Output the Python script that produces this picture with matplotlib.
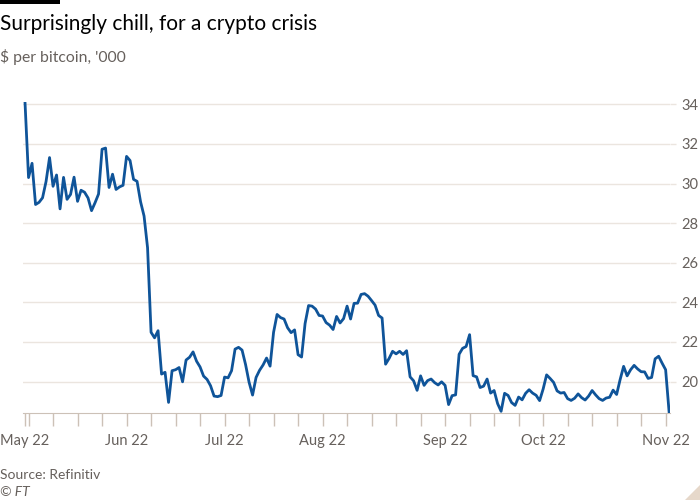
import numpy as np
import pandas as pd
import matplotlib
matplotlib.use("Agg")
import matplotlib.pyplot as plt
import matplotlib.dates as mdates
from matplotlib.patches import Rectangle, Polygon

plt.rcParams['font.family'] = ['Lato', 'DejaVu Sans']

# Daily bitcoin price, $'000, 8 May - 8 Nov 2022
start_date = "2022-05-08"
price = [
    # May 8-31
    34.06, 30.30, 31.02, 28.94, 29.05, 29.28, 30.10, 31.31, 29.86, 30.43,
    28.72, 30.31, 29.20, 29.45, 30.32, 29.10, 29.66, 29.56, 29.27, 28.63,
    29.03, 29.47, 31.73, 31.79,
    # Jun
    29.80, 30.47, 29.70, 29.83, 29.91, 31.37, 31.16, 30.21, 30.11, 29.08,
    28.36, 26.76, 22.49, 22.21, 22.57, 20.38, 20.47, 18.95, 20.55, 20.60,
    20.71, 19.99, 21.09, 21.23, 21.50, 21.03, 20.74, 20.28, 20.11, 19.79,
    # Jul
    19.27, 19.24, 19.30, 20.23, 20.19, 20.55, 21.64, 21.73, 21.59, 20.86,
    19.97, 19.32, 20.21, 20.57, 20.84, 21.19, 20.78, 22.49, 23.39, 23.23,
    23.16, 22.72, 22.47, 22.61, 21.36, 21.24, 22.93, 23.84, 23.81, 23.66,
    23.34,
    # Aug
    23.31, 22.98, 22.85, 22.63, 23.29, 22.96, 23.18, 23.81, 23.16, 23.95,
    23.96, 24.40, 24.44, 24.31, 24.09, 23.86, 23.34, 23.21, 20.88, 21.17,
    21.53, 21.40, 21.53, 21.37, 21.56, 20.24, 20.04, 19.56, 20.29, 19.81,
    20.05,
    # Sep
    20.13, 19.95, 19.83, 19.99, 19.81, 18.84, 19.29, 19.33, 21.38, 21.68,
    21.77, 22.37, 20.30, 20.24, 19.70, 19.77, 20.13, 19.42, 19.55, 18.89,
    18.50, 19.41, 19.30, 18.94, 18.80, 19.22, 19.08, 19.41, 19.59, 19.42,
    # Oct
    19.31, 19.04, 19.62, 20.34, 20.16, 19.96, 19.53, 19.42, 19.45, 19.14,
    19.05, 19.16, 19.38, 19.19, 19.07, 19.27, 19.55, 19.33, 19.14, 19.05,
    19.17, 19.21, 19.57, 19.35, 20.10, 20.77, 20.29, 20.60, 20.82, 20.64,
    20.50,
    # Nov 1-8
    20.49, 20.16, 20.21, 21.15, 21.28, 20.93, 20.60, 18.45,
]
dates = pd.date_range(start_date, periods=len(price), freq="D")

month_labels = ["May 22", "Jun 22", "Jul 22", "Aug 22", "Sep 22", "Oct 22", "Nov 22"]
label_dates = pd.to_datetime(["2022-05-08", "2022-06-06", "2022-07-04", "2022-08-01",
                              "2022-09-05", "2022-10-03", "2022-11-07"])
yticks = [20, 22, 24, 26, 28, 30, 32, 34]

line_col = "#0f5499"
grid_col = "#ebe5df"
axis_col = "#ccc1b7"
muted = "#66605c"

fig = plt.figure(figsize=(7, 5), dpi=100)
fig.patch.set_facecolor("white")
ax = fig.add_axes([23 / 700, 1 - 413.3 / 500, 647 / 700, 311 / 500])

ax.plot(dates, price, color=line_col, lw=2.0, solid_joinstyle="round", zorder=3)

ax.set_xlim(dates[0] - pd.Timedelta(hours=14), dates[-1] + pd.Timedelta(hours=6))
ax.set_ylim(18.4, 34.1)

# y axis on the right, gridlines
ax.yaxis.tick_right()
ax.set_yticks(yticks)
ax.set_yticklabels([str(v) for v in yticks])
ax.tick_params(axis="y", length=4, width=1, color=grid_col, pad=4,
               labelsize=10.5, labelcolor=muted)
ax.grid(axis="y", color=grid_col, lw=1)

# weekly minor ticks, month labels
mondays = pd.date_range("2022-05-09", dates[-1], freq="W-MON")
ax.set_xticks(list(mondays), minor=True)
ax.set_xticks(list(label_dates))
ax.set_xticklabels(month_labels)
ax.tick_params(axis="x", which="both", length=9, width=1, color=axis_col)
ax.tick_params(axis="x", which="major", pad=6, labelsize=10.5, labelcolor=muted)

for s in ["top", "left", "right"]:
    ax.spines[s].set_visible(False)
ax.spines["bottom"].set_color(axis_col)
ax.set_axisbelow(True)

# header and footer
fig.add_artist(Rectangle((0, 1 - 4 / 500), 60 / 700, 4 / 500, transform=fig.transFigure,
                         color="black", lw=0))
fig.text(0, 1 - 30 / 500, "Surprisingly chill, for a crypto crisis", fontsize=15,
         color="black", ha="left", va="baseline")
fig.text(0, 1 - 62 / 500, "$ per bitcoin, '000", fontsize=11.3, color=muted,
         ha="left", va="baseline")
fig.text(0, 1 - 479 / 500, "Source: Refinitiv", fontsize=10, color=muted,
         ha="left", va="baseline")
fig.text(0, 1 - 496 / 500, "© FT", fontsize=10, color=muted, style="italic",
         ha="left", va="baseline")
fig.add_artist(Polygon([(685 / 700, 0), (1, 0), (1, 15 / 500)], closed=True,
                       transform=fig.transFigure, color="#e6d8ca", lw=0))

fig.savefig("out.png", dpi=100, facecolor="white")
